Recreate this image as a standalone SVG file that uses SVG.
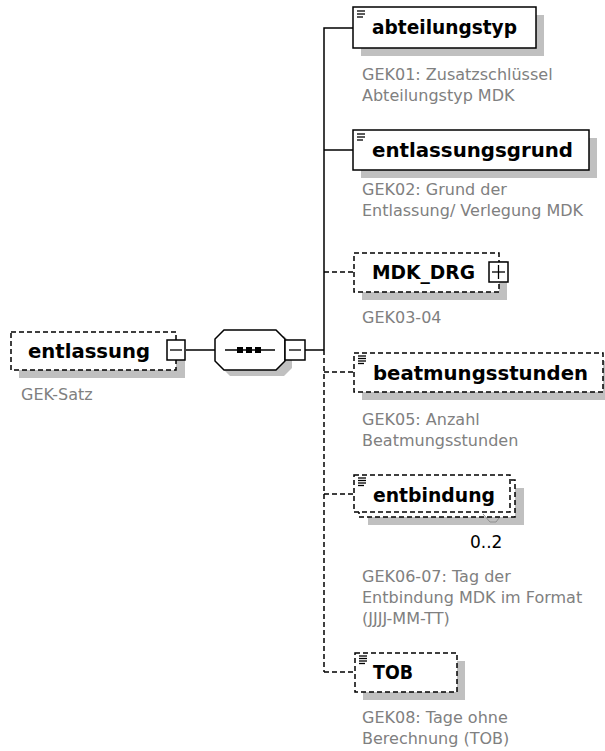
<svg xmlns="http://www.w3.org/2000/svg" width="605" height="751" viewBox="0 0 605 751">
<style>
.bg{fill:#fff}
.box{fill:#fff;stroke:#000;stroke-width:1.5}
.opt{stroke-dasharray:5 3}
.sh{fill:#c0c0c0}
.ln{fill:none;stroke:#000;stroke-width:1.5}
.dl{stroke-dasharray:5 3}
.icon{stroke:#000;stroke-width:1.3}
.name{font-family:"DejaVu Sans",sans-serif;font-weight:bold;font-size:19.5px;fill:#000}
.desc{font-family:"DejaVu Sans",sans-serif;font-size:16px;fill:#808080}
.card{font-family:"DejaVu Sans",sans-serif;font-size:17px;fill:#000}
</style>
<rect class="bg" width="605" height="751"/>

<g id="connectors">
  <line class="ln" x1="186" y1="350" x2="215" y2="350"/>
  <line class="ln" x1="305" y1="350" x2="324" y2="350"/>
  <polyline class="ln" points="353,28 324,28 324,350"/>
  <line class="ln" x1="324" y1="150" x2="353" y2="150"/>
  <line class="ln dl" x1="324" y1="350" x2="324" y2="672"/>
  <line class="ln dl" x1="324" y1="272" x2="354" y2="272"/>
  <line class="ln dl" x1="324" y1="372" x2="354" y2="372"/>
  <line class="ln dl" x1="324" y1="494" x2="354" y2="494"/>
  <line class="ln dl" x1="324" y1="672" x2="354" y2="672"/>
</g>

<g id="entlassung">
  <rect class="sh" x="19" y="340" width="166" height="38"/>
  <rect class="box opt" x="11" y="332" width="165" height="38"/>
  <text class="name" x="28" y="358" textLength="122" lengthAdjust="spacingAndGlyphs">entlassung</text>
  <rect class="box" x="167" y="340" width="18" height="20"/>
  <line class="icon" x1="170" y1="350" x2="182" y2="350"/>
  <text class="desc" x="21" y="400">GEK-Satz</text>
</g>

<g id="sequence">
  <polygon class="sh" points="230,336 284,336 292,344 292,368 284,376 230,376 222,368 222,344"/>
  <polygon class="box" points="224,330 276,330 285,339 285,361 276,370 224,370 215,361 215,339"/>
  <line class="icon" x1="225" y1="350" x2="275" y2="350"/>
  <rect x="237" y="347" width="6" height="6" fill="#000"/>
  <rect x="246" y="347" width="6" height="6" fill="#000"/>
  <rect x="255" y="347" width="6" height="6" fill="#000"/>
  <rect class="box" x="285" y="340" width="20" height="20"/>
  <line class="icon" x1="289" y1="350" x2="301" y2="350"/>
</g>

<g id="abteilungstyp">
  <rect class="sh" x="361" y="15" width="183" height="41"/>
  <rect class="box" x="353" y="7" width="183" height="41"/>
  <line class="icon" x1="357" y1="11" x2="365" y2="11"/>
  <line class="icon" x1="357" y1="14" x2="365" y2="14"/>
  <line class="icon" x1="357" y1="17" x2="363" y2="17"/>
  <text class="name" x="372" y="34" textLength="145" lengthAdjust="spacingAndGlyphs">abteilungstyp</text>
  <text class="desc" x="362" y="80">GEK01: Zusatzschlüssel</text>
  <text class="desc" x="362" y="101">Abteilungstyp MDK</text>
</g>

<g id="entlassungsgrund">
  <rect class="sh" x="361" y="138" width="236" height="40"/>
  <rect class="box" x="353" y="130" width="236" height="40"/>
  <line class="icon" x1="357" y1="134" x2="365" y2="134"/>
  <line class="icon" x1="357" y1="137" x2="365" y2="137"/>
  <line class="icon" x1="357" y1="140" x2="363" y2="140"/>
  <text class="name" x="372" y="157" textLength="201" lengthAdjust="spacingAndGlyphs">entlassungsgrund</text>
  <text class="desc" x="362" y="195">GEK02: Grund der</text>
  <text class="desc" x="362" y="216">Entlassung/ Verlegung MDK</text>
</g>

<g id="MDK_DRG">
  <rect class="sh" x="362" y="261" width="145" height="39"/>
  <rect class="box opt" x="354" y="253" width="145" height="39"/>
  <text class="name" x="372" y="279" textLength="103" lengthAdjust="spacingAndGlyphs">MDK_DRG</text>
  <rect class="box" x="489" y="262" width="19" height="20"/>
  <line class="icon" x1="492" y1="272" x2="505" y2="272"/>
  <line class="icon" x1="498.5" y1="265" x2="498.5" y2="279"/>
  <text class="desc" x="362" y="323">GEK03-04</text>
</g>

<g id="beatmungsstunden">
  <rect class="sh" x="362" y="361" width="249" height="39"/>
  <rect class="box opt" x="354" y="353" width="249" height="39"/>
  <line class="icon" x1="358" y1="356" x2="366" y2="356"/>
  <line class="icon" x1="358" y1="358.5" x2="366" y2="358.5"/>
  <line class="icon" x1="358" y1="361" x2="366" y2="361"/>
  <line class="icon" x1="358" y1="363.5" x2="364" y2="363.5"/>
  <text class="name" x="373" y="380" textLength="215" lengthAdjust="spacingAndGlyphs">beatmungsstunden</text>
  <text class="desc" x="362" y="425">GEK05: Anzahl</text>
  <text class="desc" x="362" y="446">Beatmungsstunden</text>
</g>

<g id="entbindung">
  <rect class="sh" x="368" y="488" width="156" height="37"/>
  <rect class="box opt" x="359" y="480" width="156" height="37"/>
  <rect class="box opt" x="354" y="475" width="156" height="37"/>
  <line class="icon" x1="358" y1="478" x2="366" y2="478"/>
  <line class="icon" x1="358" y1="480.5" x2="366" y2="480.5"/>
  <line class="icon" x1="358" y1="483" x2="366" y2="483"/>
  <line class="icon" x1="358" y1="485.5" x2="364" y2="485.5"/>
  <text class="name" x="373" y="502" textLength="122" lengthAdjust="spacingAndGlyphs">entbindung</text>
  <polyline points="483,514 490,522 496,522 499,518" fill="none" stroke="#909090" stroke-width="1"/>
  <text class="card" x="470" y="548">0..2</text>
  <text class="desc" x="362" y="582">GEK06-07: Tag der</text>
  <text class="desc" x="362" y="603">Entbindung MDK im Format</text>
  <text class="desc" x="362" y="624">(JJJJ-MM-TT)</text>
</g>

<g id="TOB">
  <rect class="sh" x="363" y="661" width="102" height="39"/>
  <rect class="box opt" x="355" y="653" width="102" height="39"/>
  <line class="icon" x1="359" y1="656" x2="367" y2="656"/>
  <line class="icon" x1="359" y1="658.5" x2="367" y2="658.5"/>
  <line class="icon" x1="359" y1="661" x2="367" y2="661"/>
  <line class="icon" x1="359" y1="663.5" x2="365" y2="663.5"/>
  <text class="name" x="373" y="679" textLength="40" lengthAdjust="spacingAndGlyphs">TOB</text>
  <text class="desc" x="362" y="723">GEK08: Tage ohne</text>
  <text class="desc" x="362" y="744">Berechnung (TOB)</text>
</g>
</svg>
